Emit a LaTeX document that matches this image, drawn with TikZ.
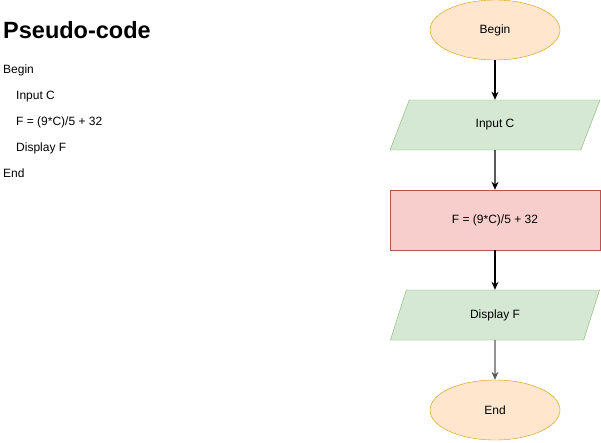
\documentclass[tikz,border=0pt]{standalone}
\usepackage{fontspec}
\setmainfont{Liberation Sans}
\usetikzlibrary{shapes.geometric,arrows.meta}
\definecolor{termfill}{HTML}{FFE6CC}
\definecolor{termline}{HTML}{D79B00}
\definecolor{iofill}{HTML}{D5E8D4}
\definecolor{ioline}{HTML}{82B366}
\definecolor{procfill}{HTML}{F8CECC}
\definecolor{procline}{HTML}{B85450}
\tikzset{
  term/.style={ellipse, draw=termline, fill=termfill, minimum width=130pt, minimum height=60pt, inner sep=0pt},
  io/.style={trapezium, trapezium left angle=68.2, trapezium right angle=111.8, trapezium stretches=true,
    draw=ioline, fill=iofill, minimum width=210pt, minimum height=50pt, inner sep=0pt},
  proc/.style={rectangle, draw=procline, fill=procfill, minimum width=210pt, minimum height=60pt},
  code/.style={anchor=base west, inner sep=0pt},
  flow/.style={-{Stealth[length=8pt,width=7pt]}, line width=1.3pt}
}
\begin{document}
\begin{tikzpicture}[x=1pt,y=-1pt,font=\fontsize{12}{14}\selectfont]
      \useasboundingbox (0,0) rectangle (601,442);
      % pseudo-code listing
      \node[code] (title) at (3,38) {\fontsize{23.5}{27}\selectfont\bfseries Pseudo-code};
      \node[code] (l1) at (3,73) {Begin};
      \node[code] (l2) at (16,99) {Input C};
      \node[code] (l3) at (16,125) {F = (9*C)/5 + 32};
      \node[code] (l4) at (16,151) {Display F};
      \node[code] (l5) at (3,177) {End};
      % flowchart
      \draw
        (495,30) node[term] (begin){Begin}
        (495,125) node[io] (input){Input C}
        (495,220) node[proc] (calc){F = (9*C)/5 + 32}
        (495,315) node[io] (display){Display F}
        (495,410) node[term] (end){End};
      \begin{scope}[flow]
        \draw (begin) to (input);
        \draw (input) to (calc);
        \draw (calc) to (display);
        \draw[black!65] (display) to (end);
      \end{scope}
    \end{tikzpicture}
\end{document}
